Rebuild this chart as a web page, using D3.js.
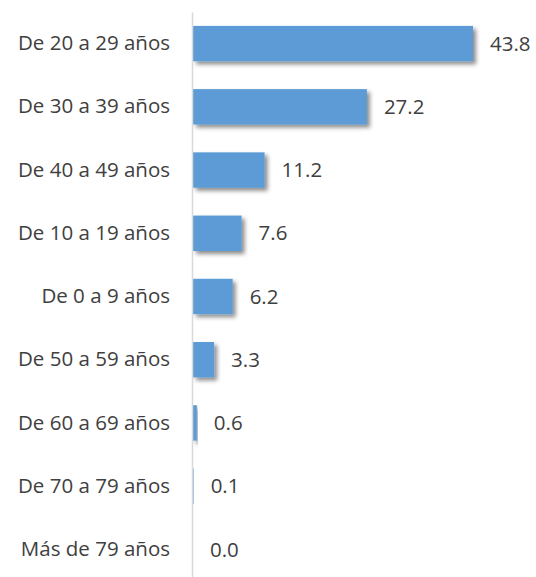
<!DOCTYPE html>
<html>
<head>
<meta charset="utf-8">
<script src="https://cdn.jsdelivr.net/npm/d3@7"></script>
<style>
  body { margin: 0; background: #fff; }
  text { font-family: "Open Sans", sans-serif; fill: #404040; }
</style>
</head>
<body>
<svg width="536" height="577"></svg>
<script>
const WIDTH = 536
const HEIGHT = 577

const categories = [
    "De 20 a 29 años",
    "De 30 a 39 años",
    "De 40 a 49 años",
    "De 10 a 19 años",
    "De 0 a 9 años",
    "De 50 a 59 años",
    "De 60 a 69 años",
    "De 70 a 79 años",
    "Más de 79 años"
]
const values = [43.8, 27.2, 11.2, 7.6, 6.2, 3.3, 0.6, 0.1, 0.0]

const AXIS_X = 192
const TOP = 12
const BOTTOM = 581
const FONT = "20.5px"

const svg = d3.select("svg")

// soft shadow like the office chart
const defs = svg.append("defs")
const f = defs.append("filter")
    .attr("id", "shadow")
    .attr("x", "-20%").attr("y", "-30%")
    .attr("width", "150%").attr("height", "180%")
f.append("feDropShadow")
    .attr("dx", 3).attr("dy", 3)
    .attr("stdDeviation", 2)
    .attr("flood-color", "#000")
    .attr("flood-opacity", 0.45)

const y = d3.scaleBand()
    .domain(categories)
    .range([TOP, BOTTOM])
    .paddingInner(0.44)
    .paddingOuter(0.22)

const x = d3.scaleLinear()
    .domain([0, 43.8])
    .range([AXIS_X + 1, 473])

let data = categories.map((c, i) => ({ cat: c, val: values[i] }))

svg.append("g")
    .selectAll("rect")
    .data(data)
    .join("rect")
    .attr("x", x(0))
    .attr("y", d => y(d.cat))
    .attr("width", d => x(d.val) - x(0))
    .attr("height", y.bandwidth())
    .attr("fill", "#5B9BD5")
    .attr("filter", "url(#shadow)")

// category axis
const yAxis = d3.axisLeft(y).tickSize(0).tickPadding(22)
const ag = svg.append("g")
    .attr("transform", "translate(" + AXIS_X + ",0)")
    .call(yAxis)
ag.select(".domain").attr("stroke", "#d9d9d9").attr("stroke-width", 1.5)
ag.selectAll("text")
    .style("font-size", FONT)
    .attr("fill", "#404040")
    .style("font-family", "'Open Sans', sans-serif")

// value labels
svg.append("g")
    .selectAll("text")
    .data(data)
    .join("text")
    .attr("x", d => x(d.val) + 17)
    .attr("y", d => y(d.cat) + y.bandwidth() / 2)
    .attr("dy", "0.35em")
    .style("font-size", FONT)
    .text(d => d.val.toFixed(1))
</script>
</body>
</html>
